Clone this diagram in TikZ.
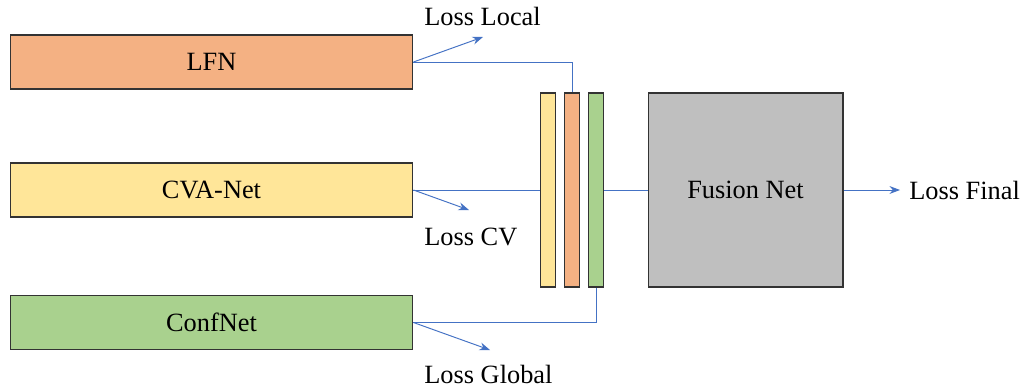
\documentclass[tikz,border=0pt]{standalone}
\usepackage{fontspec}
\setmainfont{Liberation Serif}
\usetikzlibrary{shapes.geometric, arrows.meta, positioning}
\definecolor{lfnorange}{RGB}{244,177,131}
\definecolor{cvayellow}{RGB}{255,230,153}
\definecolor{confgreen}{RGB}{169,209,142}
\definecolor{fusiongray}{RGB}{191,191,191}
\definecolor{lineblue}{RGB}{68,114,196}
\tikzstyle{net} = [rectangle, 
minimum width=8.06cm, 
minimum height=1.08cm, text centered, 
draw=black!80, line width=0.6pt]
\tikzstyle{bar} = [rectangle, 
minimum width=0.3cm, 
minimum height=3.88cm, 
inner sep=0pt, 
draw=black!80, line width=0.6pt]
\tikzstyle{fusion} = [rectangle, 
minimum width=3.9cm, 
minimum height=3.88cm, 
text centered, 
draw=black!80, line width=0.6pt, 
fill=fusiongray]
\tikzstyle{loss} = [anchor=west, inner sep=0pt]
\tikzstyle{line} = [draw=lineblue, line width=0.55pt]
\tikzstyle{arrow} = [line,-{Stealth[length=6pt,width=4.5pt]}]

\begin{document}
\begin{tikzpicture}[x=0.02cm, y=-0.02cm, font=\fontsize{15}{18}\selectfont]
	\useasboundingbox (0,0) rectangle (1030,389);
	\node (lfn) [net, fill=lfnorange] at (211.5,62) {LFN};
	\node (cva) [net, fill=cvayellow] at (211.5,190) {CVA-Net};
	\node (conf) [net, fill=confgreen] at (211.5,322.5) {ConfNet};
	\node (barcva) [bar, fill=cvayellow] at (548,190) {};
	\node (barlfn) [bar, fill=lfnorange, right=0.16cm of barcva] {};
	\node (barconf) [bar, fill=confgreen, right=0.16cm of barlfn] {};
	\node (fusionnet) [fusion] at (745.5,190) {Fusion Net};

	\coordinate (locend) at (483,37);
	\coordinate (cvend) at (469,210);
	\coordinate (globend) at (490,350);
	\coordinate (finend) at (900,190);
	\node (losslocal) [loss] at (424,16) {Loss Local};
	\node (losscv) [loss] at (424,237) {Loss CV};
	\node (lossglobal) [loss] at (424,374) {Loss Global};
	\node (lossfinal) [loss] at (909,190) {Loss Final};

	\draw [line] (lfn.east) -| (barlfn.north);
	\draw [line] (cva.east) -- (barcva.west);
	\draw [line] (conf.east) -| (barconf.south);
	\draw [line] (barconf.east) -- (fusionnet.west);
	\draw [arrow] (lfn.east) -- (locend);
	\draw [arrow] (cva.east) -- (cvend);
	\draw [arrow] (conf.east) -- (globend);
	\draw [arrow] (fusionnet.east) -- (finend);
\end{tikzpicture}
\end{document}
